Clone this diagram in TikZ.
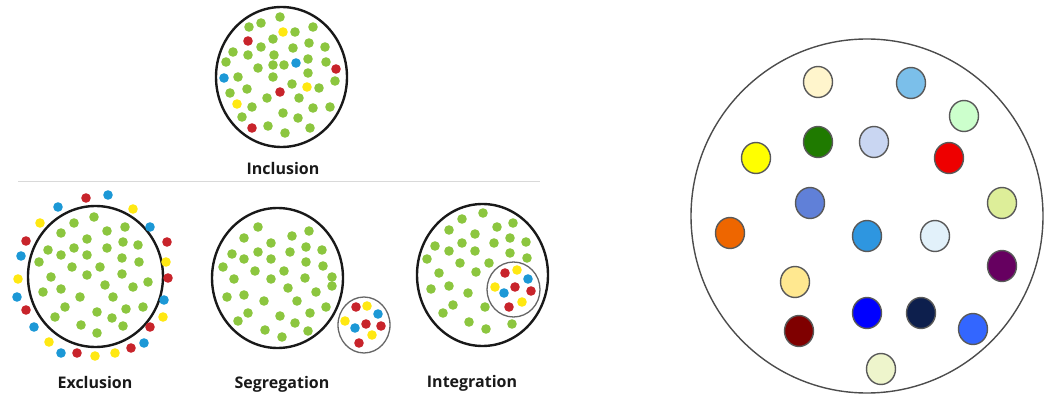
\documentclass[tikz,border=0pt]{standalone}
\usepackage{fontspec}
\setmainfont{Open Sans}
\begin{document}
\begin{tikzpicture}[x=1pt,y=-1pt,
  big/.style={draw=black!90,line width=2.4pt},
  small/.style={draw=black!60,line width=1.3pt},
  lbl/.style={font=\fontsize{16}{17}\selectfont\bfseries,text=black!90},
  rdot/.style={draw=black!65,line width=1.4pt}]
\definecolor{gG}{HTML}{8CC63F}
\definecolor{gR}{HTML}{C8242B}
\definecolor{gB}{HTML}{1C98D6}
\definecolor{gY}{HTML}{FFE812}
\useasboundingbox (0,0) rectangle (1044,398);
\def\dr{4.8}
% ---------- Inclusion ----------
\draw[big] (281.5,77) ellipse (65.5 and 70);
\foreach \x/\y in {280/17,249/27,261/23,295/32,313/27,273/39,233/52,248/55,261/47,274/55,293/48,309/43,325/47,226/62,258/68,273/65,284/65,308/59,326/62,238/77,273/77,292/84,308/73,335/81,230/93,247/89,267/98,299/98,319/88,252/107,283/113,313/108,330/107,242/117,268/126,298/118,285/133,310/128}
  \fill[gG] (\x,\y) circle (\dr);
\foreach \x/\y in {248/41,336/69,280/92,252/128} \fill[gR] (\x,\y) circle (\dr);
\foreach \x/\y in {296/63,224/78} \fill[gB] (\x,\y) circle (\dr);
\foreach \x/\y in {283/32,307/87,237/104} \fill[gY] (\x,\y) circle (\dr);
\node[lbl] (inc) at (283,169) {Inclusion};
% separator
\draw[black!15,line width=1pt] (18,181.5) -- (540,181.5);
% ---------- Exclusion ----------
\draw[big] (95.5,276.5) ellipse (67.5 and 70.5);
\foreach \x/\y in {94/217,74/223,61/233,107/231,125/227,87/239,48/250,61/255,74/248,87/255,107/248,123/242,138/245,39/262,72/267,100/267,122/258,139/262,51/277,87/275,122/274,148/282,105/285,133/287,43/292,61/289,80/297,113/297,65/307,97/312,126/309,143/307,55/317,112/318,81/325,123/326,97/333}
  \fill[gG] (\x,\y) circle (\dr);
\foreach \x/\y in {86/198,26/241,167/242,168/278,26/310,150/327,77/353,131/348} \fill[gR] (\x,\y) circle (\dr);
\foreach \x/\y in {108/195,58/207,150/227,21/256,17/297,164/300,34/327,144/343,61/353} \fill[gB] (\x,\y) circle (\dr);
\foreach \x/\y in {133/209,40/223,166/262,18/279,163/317,49/342,95/356,115/353} \fill[gY] (\x,\y) circle (\dr);
\node[lbl] (exc) at (95,382) {Exclusion};
% ---------- Segregation ----------
\draw[big] (277.5,278) ellipse (65.5 and 70);
\foreach \x/\y in {258/227,244/238,292/236,309/231,271/243,232/254,258/252,290/252,306/247,322/250,244/259,271/259,306/262,223/267,323/266,255/271,284/271,234/279,271/279,305/278,332/277,332/286,288/288,244/295,227/297,316/292,264/301,297/301,326/307,248/313,310/313,238/321,280/316,295/323,265/330,308/331,282/337}
  \fill[gG] (\x,\y) circle (\dr);
\draw[small] (364,325) ellipse (26 and 28);
\foreach \x/\y in {356/307,366/324,381/326,359/343} \fill[gR] (\x,\y) circle (\dr);
\foreach \x/\y in {378/314,355/328} \fill[gB] (\x,\y) circle (\dr);
\foreach \x/\y in {367/306,345/321,372/335} \fill[gY] (\x,\y) circle (\dr);
\node[lbl] (seg) at (282,384) {Segregation};
% ---------- Integration ----------
\draw[big] (482.5,275) ellipse (65.5 and 71);
\foreach \x/\y in {483/213,462/219,497/227,513/223,449/230,475/234,435/246,449/251,462/243,475/251,494/243,510/238,526/242,427/259,460/263,489/263,510/253,527/258,439/273,476/272,431/289,449/286,468/293,453/305,443/313,485/307,469/322,486/329,512/324}
  \fill[gG] (\x,\y) circle (\dr);
\draw[small] (513.5,289.5) ellipse (26.5 and 27.5);
\foreach \x/\y in {505/273,515/287,531/291,509/307} \fill[gR] (\x,\y) circle (\dr);
\foreach \x/\y in {528/279,504/293} \fill[gB] (\x,\y) circle (\dr);
\foreach \x/\y in {517/270,495/287,522/302} \fill[gY] (\x,\y) circle (\dr);
\node[lbl] (int) at (472,383) {Integration};
% ---------- Right circle ----------
\draw[black!70,line width=1.4pt] (867,216) ellipse (176 and 177);
\foreach \x/\y/\c in {818/82/FFF5CC,911/83/7BBFEA,964/116/CCFFCC,818/142/1F7A00,874/142/C9D6F2,756/158/FFFF00,949/158/EE0000,810/203/6080D8,1002/203/DDEE99,730/233/EE6600,867/236/2E96E0,935/236/E2F1FA,1002/266/660060,795/282/FFE890,867/313/0000FF,921/313/0D1F4D,799/331/7F0000,973/329/3366FF,881/369/EEF5CC}
{
  \definecolor{tmpc}{HTML}{\c}
  \draw[rdot,fill=tmpc] (\x,\y) ellipse (14.5 and 15.5);
}
\end{tikzpicture}
\end{document}
